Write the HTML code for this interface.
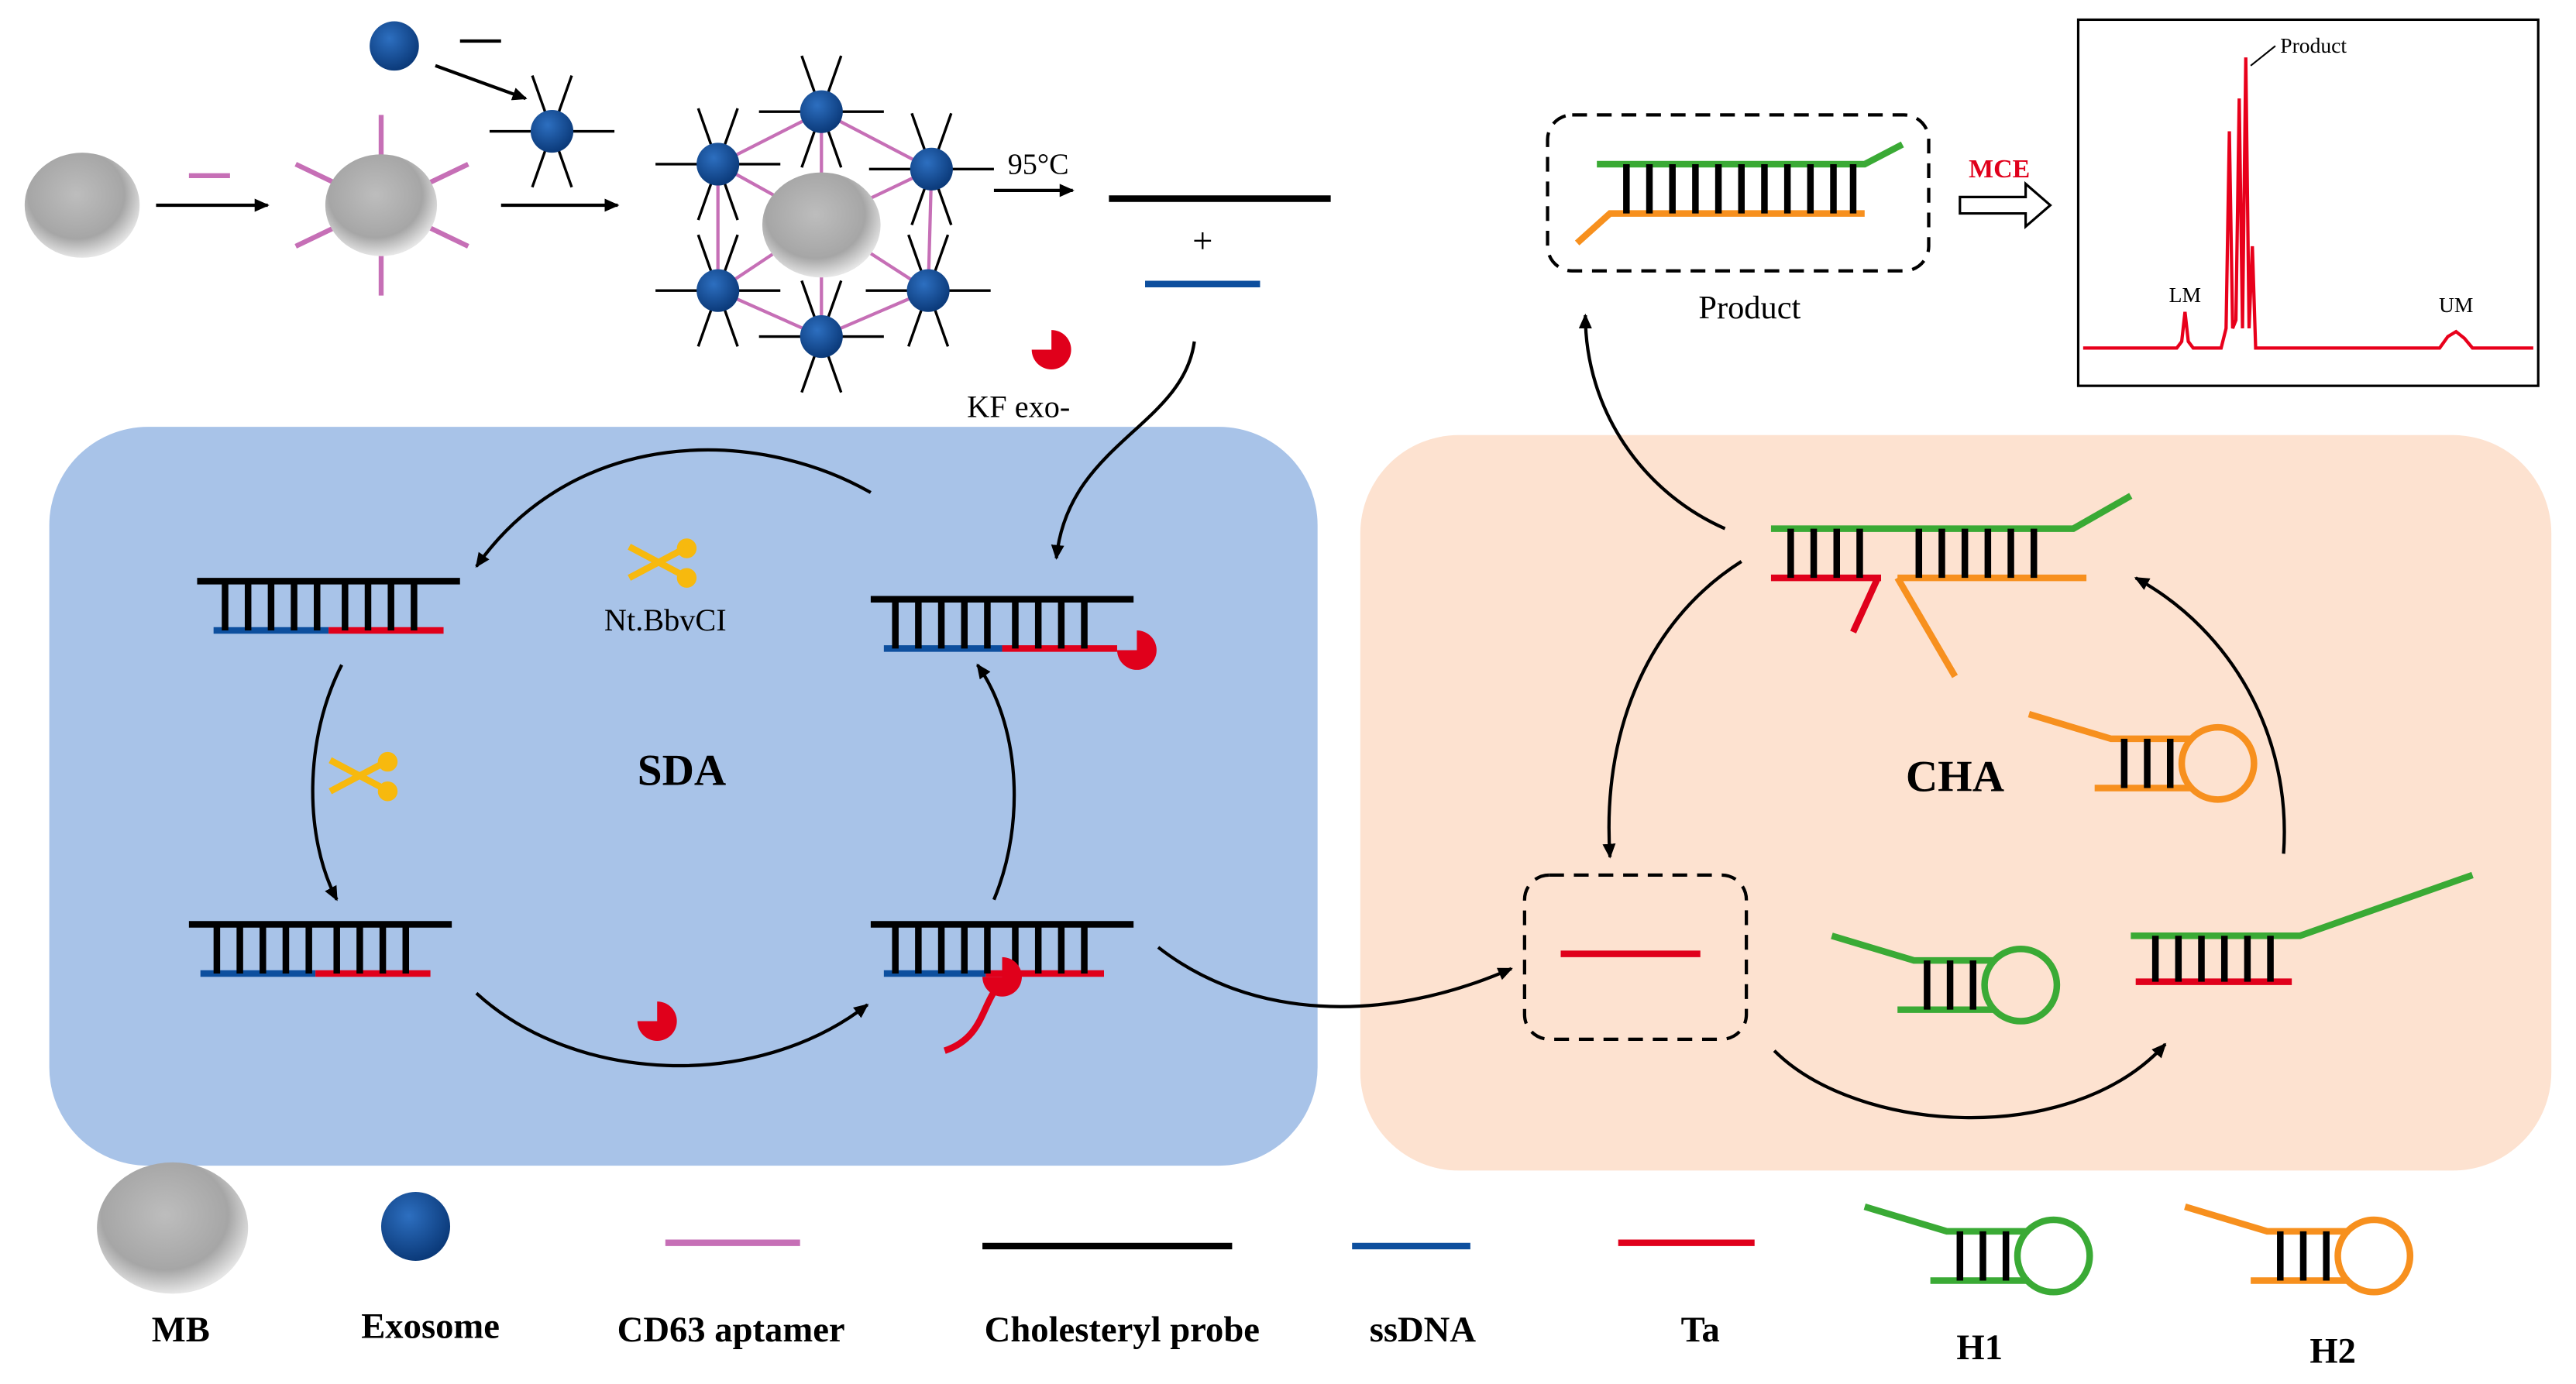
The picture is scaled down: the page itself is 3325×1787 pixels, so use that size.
<!DOCTYPE html>
<html><head><meta charset="utf-8"><style>
html,body{margin:0;padding:0;background:#fff}
svg{display:block}
text{font-family:"Liberation Serif",serif}
</style></head><body>
<svg width="3325" height="1787" viewBox="0 0 1568 843" preserveAspectRatio="none" xmlns="http://www.w3.org/2000/svg">
<defs>
<radialGradient id="gs" cx="45%" cy="40%" r="60%"><stop offset="0" stop-color="#bdbdbd"/><stop offset="0.7" stop-color="#a6a6a6"/><stop offset="1" stop-color="#e6e6e6"/></radialGradient>
<radialGradient id="bs" cx="40%" cy="35%" r="65%"><stop offset="0" stop-color="#2d6fc0"/><stop offset="1" stop-color="#0b3a7a"/></radialGradient>
<marker id="ah" markerWidth="10" markerHeight="10" refX="8" refY="5" orient="auto" markerUnits="userSpaceOnUse"><path d="M0,1 L9,5 L0,9 Z" fill="#000"/></marker>
<g id="hpG" fill="none" stroke="#3aaa35" stroke-width="4"><path d="M0,0 L50,15 L100,15 M40,45 L100,45"/><path d="M58,15V45M72,15V45M86,15V45" stroke="#000"/><circle cx="115" cy="30" r="22"/></g>
<g id="hpO" fill="none" stroke="#f7901e" stroke-width="4"><path d="M0,0 L50,15 L100,15 M40,45 L100,45"/><path d="M58,15V45M72,15V45M86,15V45" stroke="#000"/><circle cx="115" cy="30" r="22"/></g>
<g id="exo"><g stroke="#000" stroke-width="1.6"><path d="M-38,0H38M-12,-34L12,34M12,-34L-12,34"/></g><circle r="13" fill="url(#bs)"/></g>
<path id="pac" d="M0,0 L0,-12 A12,12 0 1,1 -12,0 Z" fill="#e0001b"/>
</defs>

<rect x="30" y="260" width="772" height="450" rx="60" fill="#a8c3e8"/>
<rect x="828" y="265" width="725" height="448" rx="60" fill="#fde2d0"/>

<ellipse cx="50" cy="125" rx="35" ry="32" fill="url(#gs)"/>
<line x1="115" y1="107" x2="140" y2="107" stroke="#c66fb6" stroke-width="3"/>
<line x1="95" y1="125" x2="163" y2="125" stroke="#000" stroke-width="2" marker-end="url(#ah)"/>
<g stroke="#c66fb6" stroke-width="3"><path d="M232,70V95M232,155V180M180,100L205,112M260,138L285,150M180,150L205,138M260,112L285,100"/></g>
<ellipse cx="232" cy="125" rx="34" ry="31" fill="url(#gs)"/>
<circle cx="240" cy="28" r="15" fill="url(#bs)"/>
<line x1="280" y1="25" x2="305" y2="25" stroke="#000" stroke-width="2"/>
<line x1="265" y1="40" x2="320" y2="60" stroke="#000" stroke-width="2" marker-end="url(#ah)"/>
<use href="#exo" x="336" y="80"/>
<line x1="305" y1="125" x2="376" y2="125" stroke="#000" stroke-width="2" marker-end="url(#ah)"/>
<g stroke="#c66fb6" stroke-width="2" fill="none"><path d="M437,100L500,135L500,68M567,103L500,135L437,177M500,205L500,135L565,177M437,100L500,68L567,103L565,177L500,205L437,177Z"/></g>
<ellipse cx="500" cy="137" rx="36" ry="32" fill="url(#gs)"/>
<use href="#exo" x="437" y="100"/><use href="#exo" x="500" y="68"/><use href="#exo" x="567" y="103"/>
<use href="#exo" x="437" y="177"/><use href="#exo" x="500" y="205"/><use href="#exo" x="565" y="177"/>
<text x="632" y="106" font-size="18" text-anchor="middle">95°C</text>
<line x1="605" y1="116" x2="653" y2="116" stroke="#000" stroke-width="2" marker-end="url(#ah)"/>
<line x1="675" y1="121" x2="810" y2="121" stroke="#000" stroke-width="4"/>
<text x="732" y="154" font-size="22" text-anchor="middle">+</text>
<line x1="697" y1="173" x2="767" y2="173" stroke="#0d4f9e" stroke-width="4"/>
<use href="#pac" x="640" y="213"/>
<text x="620" y="254" font-size="19" text-anchor="middle">KF exo-</text>
<path d="M727,208 C720,260 650,270 643,340" fill="none" stroke="#000" stroke-width="2" marker-end="url(#ah)"/>

<g stroke-width="4" fill="none">
<path d="M120,354H280" stroke="#000"/><path d="M130,384H200" stroke="#0d4f9e"/><path d="M200,384H270" stroke="#e0001b"/>
<path d="M137,354V384M151,354V384M165,354V384M179,354V384M193,354V384M210,354V384M224,354V384M238,354V384M252,354V384" stroke="#000"/>
<path d="M530,365H690" stroke="#000"/><path d="M538,395H610" stroke="#0d4f9e"/><path d="M610,395H680" stroke="#e0001b"/>
<path d="M545,365V395M559,365V395M573,365V395M587,365V395M601,365V395M618,365V395M632,365V395M646,365V395M660,365V395" stroke="#000"/>
<path d="M115,563H275" stroke="#000"/><path d="M122,593H192" stroke="#0d4f9e"/><path d="M192,593H262" stroke="#e0001b"/>
<path d="M132,563V593M146,563V593M160,563V593M174,563V593M188,563V593M205,563V593M219,563V593M233,563V593M247,563V593" stroke="#000"/>
<path d="M530,563H690" stroke="#000"/><path d="M538,593H600" stroke="#0d4f9e"/><path d="M600,593H672 M620,593 C595,600 605,630 575,640" stroke="#e0001b"/>
<path d="M545,563V593M559,563V593M573,563V593M587,563V593M601,563V593M618,563V593M632,563V593M646,563V593M660,563V593" stroke="#000"/>
</g>
<use href="#pac" x="692" y="396"/>
<use href="#pac" x="610" y="595"/>
<use href="#pac" x="400" y="622"/>
<g stroke="#000" stroke-width="2" fill="none">
<path d="M530,300 C460,260 350,260 290,345" marker-end="url(#ah)"/>
<path d="M208,405 C185,450 185,510 205,548" marker-end="url(#ah)"/>
<path d="M290,605 C350,660 460,665 528,612" marker-end="url(#ah)"/>
<path d="M605,548 C625,500 620,440 595,405" marker-end="url(#ah)"/>
</g>
<g stroke="#f7b90e" stroke-width="4" fill="#f7b90e"><path d="M383,333L415,350M383,352L415,335"/><circle cx="418" cy="334" r="4"/><circle cx="418" cy="352" r="4"/>
<path d="M201,463L233,480M201,482L233,465"/><circle cx="236" cy="464" r="4"/><circle cx="236" cy="482" r="4"/></g>
<text x="405" y="384" font-size="19" text-anchor="middle">Nt.BbvCI</text>
<text x="415" y="478" font-size="27" font-weight="bold" text-anchor="middle">SDA</text>
<path d="M705,577 C760,620 840,625 920,590" fill="none" stroke="#000" stroke-width="2" marker-end="url(#ah)"/>

<g stroke-width="4" fill="none">
<path d="M1078,322H1262L1297,302" stroke="#3aaa35"/>
<path d="M1155,352H1270 M1155,352L1190,412" stroke="#f7901e"/>
<path d="M1078,352H1145 M1143,352L1128,385" stroke="#e0001b"/>
<path d="M1090,322V352M1104,322V352M1118,322V352M1132,322V352M1168,322V352M1182,322V352M1196,322V352M1210,322V352M1224,322V352M1238,322V352" stroke="#000"/>
<path d="M1297,570H1400L1505,533" stroke="#3aaa35"/>
<path d="M1300,598H1395" stroke="#e0001b"/>
<path d="M1312,570V598M1326,570V598M1340,570V598M1354,570V598M1368,570V598M1382,570V598" stroke="#000"/>
</g>
<use href="#hpO" x="1235" y="435"/>
<use href="#hpG" x="1115" y="570"/>
<rect x="928" y="533" width="135" height="100" rx="15" fill="none" stroke="#000" stroke-width="2" stroke-dasharray="9,6"/>
<line x1="950" y1="581" x2="1035" y2="581" stroke="#e0001b" stroke-width="4"/>
<g stroke="#000" stroke-width="2" fill="none">
<path d="M1050,322 C1000,300 965,250 965,192" marker-end="url(#ah)"/>
<path d="M1060,342 C1000,380 975,450 980,522" marker-end="url(#ah)"/>
<path d="M1080,640 C1130,690 1260,700 1318,636" marker-end="url(#ah)"/>
<path d="M1390,520 C1395,450 1360,385 1300,352" marker-end="url(#ah)"/>
</g>
<text x="1190" y="482" font-size="27" font-weight="bold" text-anchor="middle">CHA</text>

<rect x="942" y="70" width="232" height="95" rx="15" fill="none" stroke="#000" stroke-width="2" stroke-dasharray="9,6"/>
<g stroke-width="4" fill="none">
<path d="M972,100H1135L1158,88" stroke="#3aaa35"/>
<path d="M960,148L980,130H1135" stroke="#f7901e"/>
<path d="M990,100V130M1004,100V130M1018,100V130M1032,100V130M1046,100V130M1060,100V130M1074,100V130M1088,100V130M1102,100V130M1116,100V130M1128,100V130" stroke="#000"/>
</g>
<text x="1065" y="194" font-size="20" text-anchor="middle">Product</text>
<text x="1217" y="108" font-size="16" font-weight="bold" fill="#e0001b" text-anchor="middle">MCE</text>
<path d="M1193,120H1233V112L1248,125L1233,138V130H1193Z" fill="none" stroke="#000" stroke-width="1.5"/>
<rect x="1265" y="12" width="280" height="223" fill="#fff" stroke="#000" stroke-width="1.5"/>
<polyline fill="none" stroke="#e8001b" stroke-width="2" points="1268,212 1325,212 1328,208 1330,190 1332,208 1335,212 1352,212 1355,200 1357,80 1359,200 1361,195 1363,60 1365,200 1367,35 1369,200 1371,150 1373,212 1485,212 1490,205 1495,202 1500,206 1505,212 1542,212"/>
<text x="1388" y="32" font-size="13">Product</text>
<line x1="1385" y1="28" x2="1370" y2="40" stroke="#000" stroke-width="1"/>
<text x="1330" y="184" font-size="13" text-anchor="middle">LM</text>
<text x="1495" y="190" font-size="13" text-anchor="middle">UM</text>

<ellipse cx="105" cy="748" rx="46" ry="40" fill="url(#gs)"/>
<circle cx="253" cy="747" r="21" fill="url(#bs)"/>
<line x1="405" y1="757" x2="487" y2="757" stroke="#c66fb6" stroke-width="4"/>
<line x1="598" y1="759" x2="750" y2="759" stroke="#000" stroke-width="4"/>
<line x1="823" y1="759" x2="895" y2="759" stroke="#0d4f9e" stroke-width="4"/>
<line x1="985" y1="757" x2="1068" y2="757" stroke="#e0001b" stroke-width="4"/>
<use href="#hpG" x="1135" y="735"/>
<use href="#hpO" x="1330" y="735"/>
<g font-size="22" font-weight="bold" text-anchor="middle">
<text x="110" y="817">MB</text><text x="262" y="815">Exosome</text><text x="445" y="817">CD63 aptamer</text>
<text x="683" y="817">Cholesteryl probe</text><text x="866" y="817">ssDNA</text><text x="1035" y="817">Ta</text>
<text x="1205" y="828">H1</text><text x="1420" y="830">H2</text></g>
</svg>
</body></html>
